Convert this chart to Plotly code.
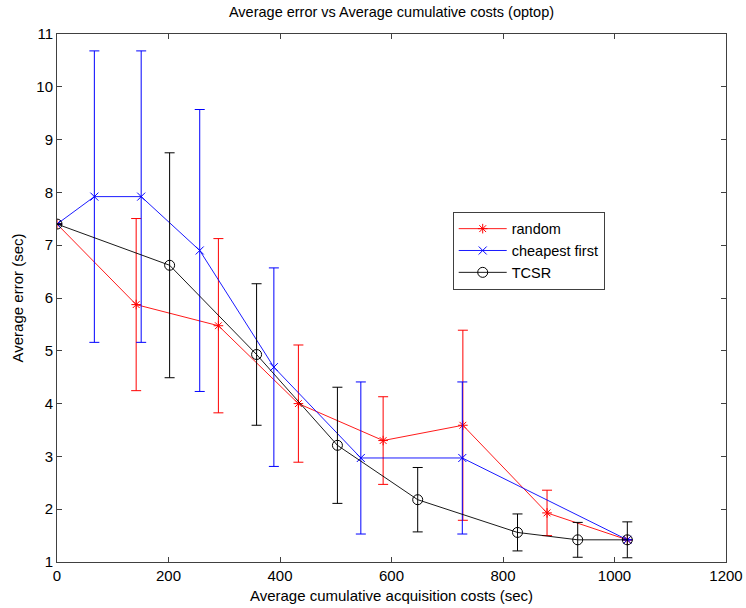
import plotly.graph_objects as go

# Average cumulative acquisition cost (x) and average error with std (y)
random_cost = [0, 142, 289.5, 433, 585, 728, 879, 1023]
random_err = [7.40, 5.875, 5.475, 4.00, 3.30, 3.59, 1.93, 1.42]
random_std = [0, 1.63, 1.65, 1.11, 0.83, 1.80, 0.43, 0]

cheap_cost = [0, 67, 151, 256, 389, 545, 727, 1023]
cheap_err = [7.40, 7.92, 7.92, 6.90, 4.69, 2.97, 2.97, 1.42]
cheap_std = [0, 2.76, 2.76, 2.67, 1.88, 1.44, 1.44, 0]

tcsr_cost = [0, 202, 358, 503, 647, 826, 934, 1023]
tcsr_err = [7.40, 6.62, 4.93, 3.21, 2.18, 1.56, 1.42, 1.42]
tcsr_std = [0, 2.13, 1.34, 1.10, 0.61, 0.35, 0.33, 0.34]

x_ticks = [0, 200, 400, 600, 800, 1000, 1200]
y_ticks = [1, 2, 3, 4, 5, 6, 7, 8, 9, 10, 11]

FONT = "Liberation Sans, Arial, Helvetica, sans-serif"
FS = 15

fig = go.Figure()


def add_series(x, y, std, name, color, symbol, size):
    fig.add_trace(go.Scatter(
        x=x, y=y, name=name, mode="lines+markers",
        line=dict(color=color, width=0.9),
        marker=dict(symbol=symbol, size=size, color=color,
                    line=dict(color=color, width=1)),
        error_y=dict(type="data", array=std, visible=True,
                     color=color, thickness=1, width=5),
    ))


add_series(random_cost, random_err, random_std, "random", "#ff0000", "asterisk-open", 8)
add_series(cheap_cost, cheap_err, cheap_std, "cheapest first", "#0000ff", "x-thin-open", 8)
add_series(tcsr_cost, tcsr_err, tcsr_std, "TCSR", "#000000", "circle-open", 10)

axis_common = dict(
    showline=True, linecolor="#404040", linewidth=1, mirror="ticks",
    ticks="inside", ticklen=5, tickcolor="#404040", showgrid=False,
    zeroline=False, automargin=False,
    tickfont=dict(family=FONT, size=FS, color="black"),
)

fig.update_layout(
    width=746, height=608,
    margin=dict(l=57, r=20, t=34, b=46),
    paper_bgcolor="white", plot_bgcolor="white",
    font=dict(family=FONT, size=FS, color="black"),
    title=dict(text="Average error vs Average cumulative costs (optop)",
               x=(57 + 726) / 2 / 746, xanchor="center", y=1 - 12 / 608,
               yanchor="middle", font=dict(family=FONT, size=14.5),
               automargin=False),
    xaxis=dict(range=[0, 1200], tickvals=x_ticks,
               title=dict(text="Average cumulative acquisition costs (sec)",
                          standoff=7, font=dict(family=FONT, size=FS)),
               **axis_common),
    yaxis=dict(range=[1, 11], tickvals=y_ticks,
               title=dict(text="Average error (sec)", standoff=9,
                          font=dict(family=FONT, size=FS)),
               **axis_common),
    legend=dict(x=0.5915, y=0.6634, xanchor="left", yanchor="top",
                bgcolor="white", bordercolor="#404040", borderwidth=1,
                font=dict(family=FONT, size=14.5), itemwidth=48,
                tracegroupgap=0),
    showlegend=True,
)

fig.write_html("out.html")
